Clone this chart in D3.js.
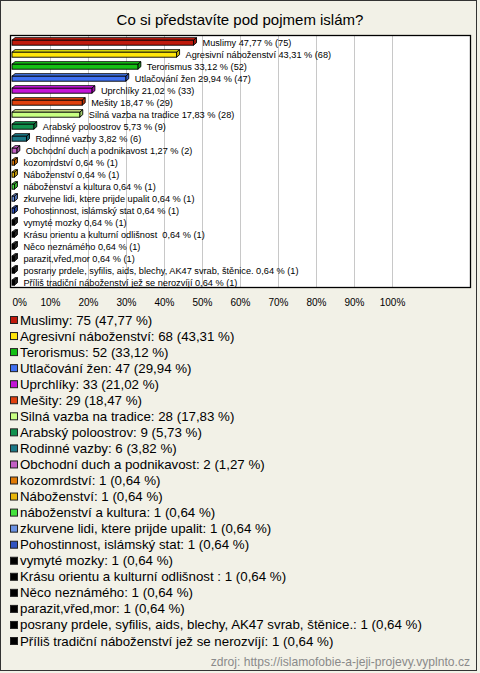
<!DOCTYPE html>
<html><head><meta charset="utf-8">
<script src="https://cdn.jsdelivr.net/npm/d3@7"></script>
<style>
html,body{margin:0;padding:0;background:#f2f1e7;}
svg{display:block;font-family:"Liberation Sans",Arial,sans-serif;}
text{white-space:pre;}
</style></head>
<body><svg id="c" width="480" height="673"></svg>
<script>
const title = "Co si představíte pod pojmem islám?";
const categories = ["Muslimy","Agresivní náboženství","Terorismus","Utlačování žen","Uprchlíky","Mešity","Silná vazba na tradice","Arabský poloostrov","Rodinné vazby","Obchodní duch a podnikavost","kozomrdství","Náboženství","náboženství a kultura","zkurvene lidi, ktere prijde upalit","Pohostinnost, islámský stat","vymyté mozky","Krásu orientu a kulturní odlišnost ","Něco neznámého","parazit,vřed,mor","posrany prdele, syfilis, aids, blechy, AK47 svrab, štěnice.","Příliš tradiční náboženství jež se nerozvíjí"];
const counts = [75,68,52,47,33,29,28,9,6,2,1,1,1,1,1,1,1,1,1,1,1];
const percents = [47.77,43.31,33.12,29.94,21.02,18.47,17.83,5.73,3.82,1.27,0.64,0.64,0.64,0.64,0.64,0.64,0.64,0.64,0.64,0.64,0.64];
const colors = ["#c01a0c","#ffe60a","#14c014","#3f70f2","#c414d8","#e0400e","#c8ff82","#12924e","#1a7886","#c260c4","#e07a06","#e8b60a","#44e23c","#6a92e2","#3054c2","#000000","#000000","#000000","#000000","#000000","#000000"];
const ticks = [0,10,20,30,40,50,60,70,80,90,100];
const source = "zdroj: https://islamofobie-a-jeji-projevy.vyplnto.cz";

const fmt = v => d3.format(".2f")(v).replace(".", ",");
const svg = d3.select("#c");

svg.append("rect").attr("x",0.5).attr("y",0.5).attr("width",476).attr("height",670)
  .attr("fill","#f2f1e7").attr("stroke","#333").attr("stroke-width",1);

svg.append("text").attr("x",240).attr("y",25).attr("text-anchor","middle")
  .attr("font-size",15).attr("fill","#000").text(title);

const plot = {left:10.5, top:35.5, right:470.5, bottom:287.5};
const x = d3.scaleLinear().domain([0,100]).range([12,392]);
const y = d3.scaleBand().domain(d3.range(categories.length)).range([35.7, 35.7+12*categories.length]);

svg.append("rect").attr("x",plot.left).attr("y",plot.top)
  .attr("width",plot.right-plot.left).attr("height",plot.bottom-plot.top)
  .attr("fill","#fff");

svg.append("g").selectAll("line").data(ticks.slice(1)).join("line")
  .attr("x1",d=>Math.round(x(d))+0.5).attr("x2",d=>Math.round(x(d))+0.5)
  .attr("y1",plot.top).attr("y2",plot.bottom)
  .attr("stroke","#c8c8c8").attr("stroke-width",1);

const ax = svg.append("g").attr("transform",`translate(0,${plot.bottom})`)
  .call(d3.axisBottom(x).tickValues(ticks).tickFormat(d=>d+"%").tickSize(0).tickPadding(11));
ax.select(".domain").remove();
ax.selectAll("text").attr("font-size",10).attr("font-family","Liberation Sans, Arial, sans-serif").attr("fill","#000");
ax.selectAll(".tick").filter(d=>d===0).select("text").attr("text-anchor","start").attr("dx",0);

const dx = 3, dy = 2.5, bh = 5;
const bars = svg.append("g").selectAll("g").data(categories.map((c,i)=>i)).join("g");
bars.each(function(i){
  const g = d3.select(this);
  const x0 = x(0), x1 = x(percents[i]);
  const yc = y(i) + y.bandwidth()/2 + 1;
  const yt = yc - bh/2, yb = yc + bh/2;
  const c = d3.color(colors[i]);
  const top = colors[i]==="#000000" ? "#444" : c.brighter(0.4).formatHex();
  const side = colors[i]==="#000000" ? "#222" : c.darker(0.6).formatHex();
  g.append("path").attr("d",`M${x0},${yt}L${x0+dx},${yt-dy}L${x1+dx},${yt-dy}L${x1},${yt}Z`)
    .attr("fill",top).attr("stroke","#000").attr("stroke-width",0.9).attr("stroke-linejoin","round");
  g.append("path").attr("d",`M${x1},${yt}L${x1+dx},${yt-dy}L${x1+dx},${yb-dy}L${x1},${yb}Z`)
    .attr("fill",side).attr("stroke","#000").attr("stroke-width",0.9).attr("stroke-linejoin","round");
  g.append("rect").attr("x",x0).attr("y",yt).attr("width",x1-x0).attr("height",bh)
    .attr("fill",colors[i]).attr("stroke","#000").attr("stroke-width",0.9);
  g.append("text").attr("x",x1+dx+6).attr("y",yc+0.5).attr("dominant-baseline","middle")
    .attr("font-size",9.2).attr("fill","#000")
    .text(`${categories[i]} ${fmt(percents[i])} % (${counts[i]})`);
});

svg.append("rect").attr("x",plot.left).attr("y",plot.top)
  .attr("width",plot.right-plot.left).attr("height",plot.bottom-plot.top)
  .attr("fill","none").attr("stroke","#000").attr("stroke-width",1.3);

const ly = d3.scaleLinear().domain([0,20]).range([321,642]);
const leg = svg.append("g").selectAll("g").data(categories.map((c,i)=>i)).join("g")
  .attr("transform",i=>`translate(0,${ly(i)})`);
leg.append("rect").attr("x",10.5).attr("y",-4.5).attr("width",7).attr("height",7)
  .attr("fill",i=>colors[i]).attr("stroke","#222").attr("stroke-width",1);
leg.append("text").attr("x",20).attr("y",0).attr("dominant-baseline","middle")
  .attr("font-size",13.3).attr("fill","#000")
  .text(i=>`${categories[i]}: ${counts[i]} (${fmt(percents[i])} %)`);

svg.append("text").attr("x",470).attr("y",666).attr("text-anchor","end")
  .attr("font-size",12.1).attr("fill","#8a8a8a").text(source);
</script></body></html>
